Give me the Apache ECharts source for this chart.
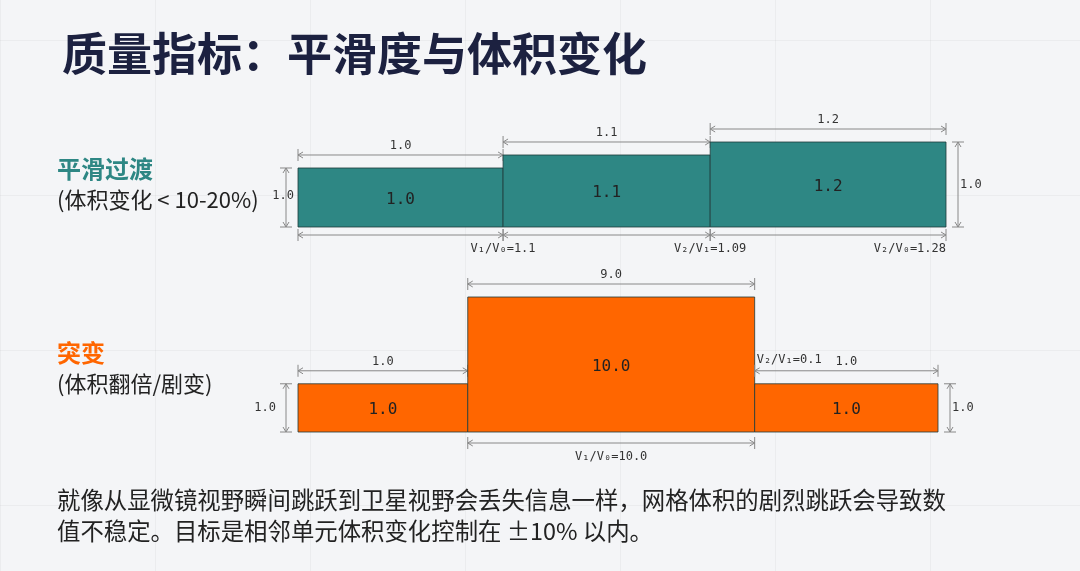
<!DOCTYPE html>
<html><head><meta charset="utf-8">
<script src="https://cdn.jsdelivr.net/npm/echarts@6/dist/echarts.min.js"></script>
<style>
html,body{margin:0;padding:0;background:#f4f5f7;}
#c{width:1080px;height:571px;
background-image:linear-gradient(to right, rgba(0,0,0,0.035) 1px, transparent 1px),linear-gradient(to bottom, rgba(0,0,0,0.035) 1px, transparent 1px);
background-size:155px 155px;background-position:0 40px;}
</style></head>
<body><div id="c"></div>
<script>
// smooth row
var smoothValues = [1.0, 1.1, 1.2];
var smoothWidthLabels = ['1.0', '1.1', '1.2'];
var smoothDrawWidths = [1.0, 1.01, 1.15];
var smoothRatios = ['V₁/V₀=1.1', 'V₂/V₁=1.09', 'V₂/V₀=1.28'];
// jump row
var jumpValues = [1.0, 10.0, 1.0];
var jumpWidthLabels = ['1.0', '9.0', '1.0'];
var jumpDrawWidths = [1.0, 1.69, 1.08];
var jumpRatios = ['', 'V₁/V₀=10.0', 'V₂/V₁=0.1'];

var TEAL = '#2e8784', ORANGE = '#ff6600';
var MONO = 'DejaVu Sans Mono';
var GREY = '#888';

function buildData(vals, widths) {
  var x = 0, out = [];
  vals.forEach(function (v, i) { out.push([x, x + widths[i], v, i]); x += widths[i]; });
  return out;
}

function hArrow(x0, x1, y) {
  return [
    {type: 'line', shape: {x1: x0, y1: y, x2: x1, y2: y}, style: {stroke: GREY, lineWidth: 1}},
    {type: 'polyline', shape: {points: [[x0 + 5, y - 3], [x0, y], [x0 + 5, y + 3]]}, style: {stroke: GREY, fill: null}},
    {type: 'polyline', shape: {points: [[x1 - 5, y - 3], [x1, y], [x1 - 5, y + 3]]}, style: {stroke: GREY, fill: null}},
    {type: 'line', shape: {x1: x0, y1: y - 6, x2: x0, y2: y + 6}, style: {stroke: GREY}},
    {type: 'line', shape: {x1: x1, y1: y - 6, x2: x1, y2: y + 6}, style: {stroke: GREY}}
  ];
}
function vArrow(x, y0, y1) {
  return [
    {type: 'line', shape: {x1: x, y1: y0, x2: x, y2: y1}, style: {stroke: GREY}},
    {type: 'polyline', shape: {points: [[x - 3, y0 + 5], [x, y0], [x + 3, y0 + 5]]}, style: {stroke: GREY, fill: null}},
    {type: 'polyline', shape: {points: [[x - 3, y1 - 5], [x, y1], [x + 3, y1 - 5]]}, style: {stroke: GREY, fill: null}},
    {type: 'line', shape: {x1: x - 6, y1: y0, x2: x + 6, y2: y0}, style: {stroke: GREY}},
    {type: 'line', shape: {x1: x - 6, y1: y1, x2: x + 6, y2: y1}, style: {stroke: GREY}}
  ];
}
function txt(t, x, y, align, size, color) {
  return {type: 'text', style: {text: t, x: x, y: y, align: align || 'center', verticalAlign: 'middle',
    font: (size || 12) + 'px "' + MONO + '"', fill: color || '#333'}};
}

function makeRender(kind, widthLabels, ratios, color, n) {
  return function (params, api) {
    var i = api.value(3);
    var p0 = api.coord([api.value(0), api.value(2)]);
    var p1 = api.coord([api.value(1), api.value(2)]);
    var base = params.coordSys.y + params.coordSys.height;
    var x0 = p0[0], x1 = p1[0], top = p0[1];
    var ch = [{type: 'rect', shape: {x: x0, y: top, width: x1 - x0, height: base - top},
      style: {fill: color, stroke: '#1e3b3a', lineWidth: 0.8}}];
    ch.push(txt(api.value(2).toFixed(1), (x0 + x1) / 2, (top + base) / 2 + 2, 'center', 16, '#222'));
    ch = ch.concat(hArrow(x0, x1, top - 13));
    ch.push(txt(widthLabels[i], (x0 + x1) / 2, top - 22, 'center', 12, '#333'));
    if (i === 0) {
      ch = ch.concat(vArrow(x0 - 12, top, base));
      ch.push(txt('1.0', kind === 's' ? x0 - 4 : x0 - 22, (top + base) / 2 + (kind === 's' ? -2 : 0), 'right', 12));
    }
    if (i === n - 1) {
      ch = ch.concat(vArrow(x1 + 12, top, base));
      ch.push(txt('1.0', x1 + 14, (top + base) / 2, 'left', 12));
    }
    if (kind === 's') {
      ch = ch.concat(hArrow(x0, x1, base + 8));
      ch.push(txt(ratios[i], x1, base + 22, i === n - 1 ? 'right' : 'center', 12));
    } else {
      if (i === 1) {
        ch = ch.concat(hArrow(x0, x1, base + 11));
        ch.push(txt(ratios[i], (x0 + x1) / 2, base + 25, 'center', 12));
      }
      if (i === 2) ch.push(txt(ratios[i], x0 + 2, top - 24, 'left', 12));
    }
    return {type: 'group', children: ch};
  };
}

var sData = buildData(smoothValues, smoothDrawWidths);
var jData = buildData(jumpValues, jumpDrawWidths);

var chart = echarts.init(document.getElementById('c'));
chart.setOption({
  backgroundColor: 'transparent',
  title: [{text: '质量指标：平滑度与体积变化', left: 57, top: 26,
    textStyle: {fontFamily: 'Noto Sans CJK SC', fontSize: 45, fontWeight: 'bold', color: '#1c2140'}}],
  graphic: [
    {type: 'text', left: 57, top: 157, style: {text: '平滑过渡', font: 'bold 24px "Noto Sans CJK SC"', fill: TEAL}},
    {type: 'text', left: 57, top: 189, style: {text: '(体积变化 < 10-20%)', font: '22px "Noto Sans CJK SC"', fill: '#222'}},
    {type: 'text', left: 57, top: 341, style: {text: '突变', font: 'bold 24px "Noto Sans CJK SC"', fill: ORANGE}},
    {type: 'text', left: 57, top: 373, style: {text: '(体积翻倍/剧变)', font: '22px "Noto Sans CJK SC"', fill: '#222'}},
    {type: 'text', left: 57, top: 485, style: {text: '就像从显微镜视野瞬间跳跃到卫星视野会丢失信息一样，网格体积的剧烈跳跃会导致数\n值不稳定。目标是相邻单元体积变化控制在 ±10% 以内。',
      font: '23.4px "Noto Sans CJK SC"', fill: '#222', lineHeight: 31}}
  ],
  grid: [
    {left: 298, width: 648, top: 142, height: 85},
    {left: 298, width: 640, top: 297, height: 135}
  ],
  xAxis: [
    {gridIndex: 0, type: 'value', min: 0, max: 3.16, show: false},
    {gridIndex: 1, type: 'value', min: 0, max: 3.77, show: false}
  ],
  yAxis: [
    {gridIndex: 0, type: 'value', min: 0.546, max: 1.2, show: false},
    {gridIndex: 1, type: 'value', min: -4, max: 10, show: false}
  ],
  series: [
    {type: 'custom', xAxisIndex: 0, yAxisIndex: 0, data: sData,
      renderItem: makeRender('s', smoothWidthLabels, smoothRatios, TEAL, 3)},
    {type: 'custom', xAxisIndex: 1, yAxisIndex: 1, data: jData,
      renderItem: makeRender('j', jumpWidthLabels, jumpRatios, ORANGE, 3)}
  ]
});
</script></body></html>
